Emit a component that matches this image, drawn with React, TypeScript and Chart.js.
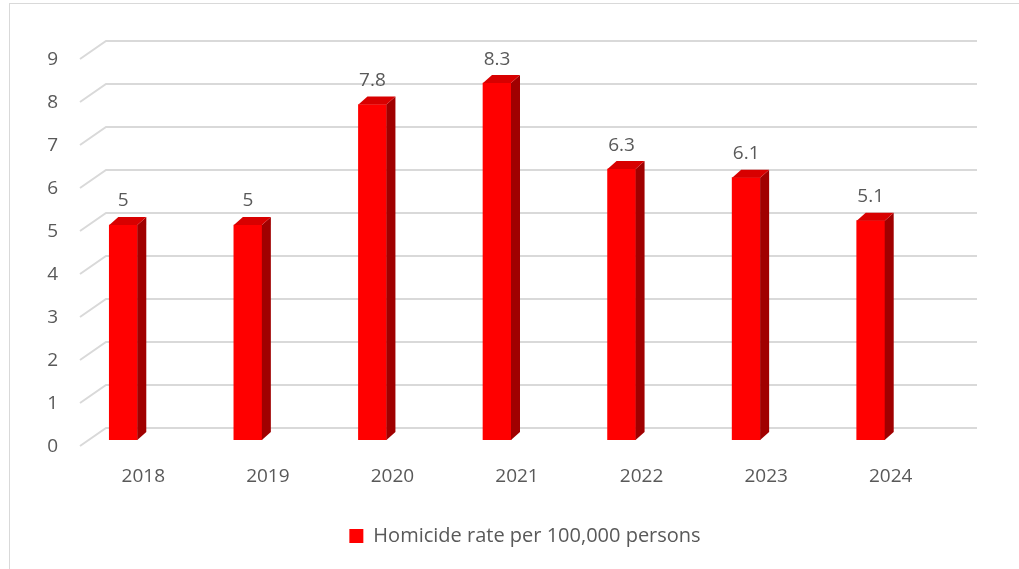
import React, { useEffect, useRef } from "react";
import { Chart, registerables } from "chart.js";

Chart.register(...registerables);

const years = ["2018", "2019", "2020", "2021", "2022", "2023", "2024"];
const homicideRate = [5, 5, 7.8, 8.3, 6.3, 6.1, 5.1];
const yTicks = [0, 1, 2, 3, 4, 5, 6, 7, 8, 9];
const seriesLabel = "Homicide rate per 100,000 persons";

const FONT = "'Open Sans', Lato, sans-serif";
const FS = 19;
const LEGEND_FS = 20;
const TEXT = "#595959";

const threeD = {
  id: "threeD",
  afterLayout(chart: any) {
    const lg = chart.legend;
    if (lg) {
      const target = 525;
      const cur = (lg.left + lg.right) / 2;
      const shift = target - cur;
      lg.left += shift;
      lg.right += shift;
    }
  },
  beforeDatasetsDraw(chart: any) {
    const ctx = chart.ctx;
    const y = chart.scales.y;
    ctx.save();
    ctx.strokeStyle = "#d9d9d9";
    ctx.lineWidth = 2;
    for (const v of yTicks) {
      const fy = y.getPixelForValue(v) + 6;
      ctx.beginPath();
      ctx.moveTo(80, fy);
      ctx.lineTo(106, fy - 18);
      ctx.lineTo(977, fy - 18);
      ctx.stroke();
    }
    ctx.restore();
  },
  afterDatasetsDraw(chart: any) {
    const ctx = chart.ctx;
    const meta = chart.getDatasetMeta(0);
    const dx = 9;
    const dy = 8;
    ctx.save();
    meta.data.forEach((bar: any, i: number) => {
      const { x, y, base, width } = bar.getProps(["x", "y", "base", "width"], true);
      const l = x - width / 2;
      const r = x + width / 2;
      ctx.fillStyle = "#a00000";
      ctx.beginPath();
      ctx.moveTo(r, y);
      ctx.lineTo(r + dx, y - dy);
      ctx.lineTo(r + dx, base - dy);
      ctx.lineTo(r, base);
      ctx.closePath();
      ctx.fill();
      ctx.fillStyle = "#d80000";
      ctx.beginPath();
      ctx.moveTo(l, y);
      ctx.lineTo(l + dx, y - dy);
      ctx.lineTo(r + dx, y - dy);
      ctx.lineTo(r, y);
      ctx.closePath();
      ctx.fill();
      ctx.fillStyle = TEXT;
      ctx.font = `${FS}px ${FONT}`;
      ctx.textAlign = "center";
      ctx.textBaseline = "middle";
      ctx.fillText(String(homicideRate[i]), x, y - 24);
    });
    ctx.restore();
  },
};

export default function App() {
  const ref = useRef<HTMLCanvasElement>(null);
  useEffect(() => {
    const chart = new Chart(ref.current!, {
      type: "bar",
      data: {
        labels: years,
        datasets: [
          {
            label: seriesLabel,
            data: homicideRate,
            backgroundColor: "#ff0000",
            borderWidth: 0,
            barThickness: 28,
          },
        ],
      },
      options: {
        animation: false,
        responsive: false,
        maintainAspectRatio: false,
        layout: { padding: { left: 0, right: 86, top: 53, bottom: 13 } },
        plugins: {
          tooltip: { enabled: false },
          legend: {
            position: "bottom",
            labels: {
              color: TEXT,
              font: { family: FONT, size: LEGEND_FS },
              boxWidth: 14,
              boxHeight: 14,
              padding: 10,
            },
          },
        },
        scales: {
          x: {
            grid: { display: false, drawTicks: false },
            border: { display: false },
            ticks: {
              color: TEXT,
              font: { family: FONT, size: FS },
              padding: 25,
              labelOffset: 20,
              maxRotation: 0,
            },
            afterFit: (s: any) => {
              s.height = 76;
            },
          },
          y: {
            min: 0,
            max: 9,
            grid: { display: false, drawTicks: false },
            border: { display: false },
            ticks: {
              color: TEXT,
              font: { family: FONT, size: FS },
              stepSize: 1,
              padding: 3,
              labelOffset: 7,
            },
            afterFit: (s: any) => {
              s.width = 61;
            },
          },
        },
      },
      plugins: [threeD],
    });
    return () => chart.destroy();
  }, []);
  return (
    <div style={{ position: "fixed", left: 0, top: 0, width: 1019, height: 569, background: "#fff", overflow: "hidden" }}>
      <div
        style={{
          position: "absolute",
          left: 9,
          top: 3,
          width: 1040,
          height: 600,
          border: "1px solid #d9d9d9",
          boxSizing: "border-box",
        }}
      />
      <canvas ref={ref} width={1019} height={569} style={{ position: "absolute", left: 0, top: 0 }} />
    </div>
  );
}
